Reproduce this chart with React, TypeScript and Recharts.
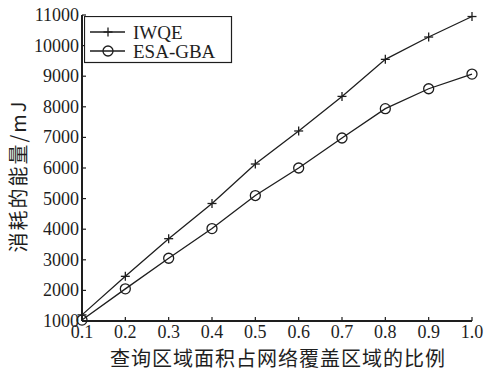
import React from "react"
import { LineChart, Line, XAxis, YAxis } from "recharts"

// query area / network coverage ratio
const ratios = [0.1, 0.2, 0.3, 0.4, 0.5, 0.6, 0.7, 0.8, 0.9, 1.0]
// energy consumed (mJ)
const iwqeEnergy = [1200, 2460, 3690, 4840, 6130, 7210, 8340, 9550, 10280, 10950]
const esaGbaEnergy = [1030, 2050, 3050, 4020, 5100, 6000, 6980, 7940, 8590, 9070]

const xTicks = [0.1, 0.2, 0.3, 0.4, 0.5, 0.6, 0.7, 0.8, 0.9, 1.0]
const yTicks = [1000, 2000, 3000, 4000, 5000, 6000, 7000, 8000, 9000, 10000, 11000]

const data = ratios.map((r, i) => ({ r, iwqe: iwqeEnergy[i], esa: esaGbaEnergy[i] }))

const FONT = '"Liberation Serif", "DejaVu Serif", serif'
const CJK = '"Noto Sans CJK SC", "Liberation Serif", serif'
const INK = "#1e1e1e"
const TICK_LEN = 4
const X_GAP = 17
const Y_GAP = 3

const PlusDot = (props: any) => {
  const { cx, cy } = props
  if (cx == null || cy == null) return null
  return (
    <g stroke={INK} strokeWidth={1.3}>
      <line x1={cx - 4.5} y1={cy} x2={cx + 4.5} y2={cy} />
      <line x1={cx} y1={cy - 4.5} x2={cx} y2={cy + 4.5} />
    </g>
  )
}

const CircleDot = (props: any) => {
  const { cx, cy } = props
  if (cx == null || cy == null) return null
  return <circle cx={cx} cy={cy} r={5} fill="none" stroke={INK} strokeWidth={1.3} />
}

// inward tick marks, with the label drawn outside the axis
const BottomTick = (props: any) => {
  const { x, y, payload } = props
  const axisY = y - X_GAP
  return (
    <g>
      <line x1={x} y1={axisY} x2={x} y2={axisY - TICK_LEN} stroke={INK} strokeWidth={1.2} />
      <text x={x} y={y} textAnchor="middle" fontFamily={FONT} fontSize={18} fill={INK}>
        {payload.value.toFixed(1)}
      </text>
    </g>
  )
}

const TopTick = (props: any) => {
  const { x, y } = props
  return <line x1={x} y1={y} x2={x} y2={y + TICK_LEN} stroke={INK} strokeWidth={1.2} />
}

const LeftTick = (props: any) => {
  const { x, y, payload } = props
  const axisX = x + Y_GAP
  return (
    <g>
      <line x1={axisX} y1={y} x2={axisX + TICK_LEN} y2={y} stroke={INK} strokeWidth={1.2} />
      <text x={x} y={y} textAnchor="end" dominantBaseline="central" fontFamily={FONT} fontSize={18} fill={INK}>
        {payload.value}
      </text>
    </g>
  )
}

const RightTick = (props: any) => {
  const { x, y } = props
  return <line x1={x} y1={y} x2={x - TICK_LEN} y2={y} stroke={INK} strokeWidth={1.2} />
}

const legendItems = [
  { label: "IWQE", Marker: PlusDot },
  { label: "ESA-GBA", Marker: CircleDot },
]

const LegendBox = () => (
  <svg width={149} height={48} style={{ position: "absolute", left: 84, top: 16 }}>
    <rect x={0.5} y={0.5} width={147} height={46} fill="#fff" stroke={INK} strokeWidth={1.2} />
    {legendItems.map((item, i) => {
      const y = 16 + i * 19
      return (
        <g key={item.label}>
          <line x1={6} y1={y} x2={41} y2={y} stroke={INK} strokeWidth={1.3} />
          <item.Marker cx={24} cy={y} />
          <text x={49} y={y} dominantBaseline="central" fontFamily={FONT} fontSize={19} fill={INK}>
            {item.label}
          </text>
        </g>
      )
    })}
  </svg>
)

const XTitle = (props: any) => {
  const { viewBox } = props
  return (
    <text
      x={viewBox.x + viewBox.width / 2 + 1}
      y={viewBox.y + 45}
      textAnchor="middle"
      fontFamily={CJK}
      fontSize={20}
      letterSpacing={1}
      fill={INK}
    >
      查询区域面积占网络覆盖区域的比例
    </text>
  )
}

const YTitle = (props: any) => {
  const { viewBox } = props
  const cx = viewBox.x - 3
  const cy = viewBox.y + viewBox.height / 2 + 8
  return (
    <text
      x={cx}
      y={cy}
      transform={`rotate(-90 ${cx} ${cy})`}
      textAnchor="middle"
      dominantBaseline="central"
      fontFamily={CJK}
      fontSize={20}
      letterSpacing={2}
      fill={INK}
    >
      消耗的能量/mJ
    </text>
  )
}

export default function App() {
  return (
    <div style={{ position: "fixed", left: 0, top: 0, width: 485, height: 371, background: "#fff" }}>
      <LineChart width={485} height={371} data={data} margin={{ top: 15, right: 13, bottom: 20, left: 20 }}>
        <XAxis
          xAxisId="b"
          dataKey="r"
          type="number"
          domain={[0.1, 1.0]}
          ticks={xTicks}
          interval={0}
          height={30}
          tickLine={false}
          tickSize={0}
          tickMargin={X_GAP}
          stroke={INK}
          strokeWidth={2}
          tick={<BottomTick />}
          label={<XTitle />}
        />
        <XAxis
          xAxisId="t"
          orientation="top"
          dataKey="r"
          type="number"
          domain={[0.1, 1.0]}
          ticks={xTicks}
          interval={0}
          height={0}
          tickLine={false}
          tickSize={0}
          tickMargin={0}
          stroke={INK}
          strokeWidth={2}
          tick={<TopTick />}
        />
        <YAxis
          yAxisId="l"
          type="number"
          domain={[1000, 11000]}
          ticks={yTicks}
          interval={0}
          width={62}
          tickLine={false}
          tickSize={0}
          tickMargin={Y_GAP}
          stroke={INK}
          strokeWidth={2}
          tick={<LeftTick />}
          label={<YTitle />}
        />
        <YAxis
          yAxisId="r"
          orientation="right"
          type="number"
          domain={[1000, 11000]}
          ticks={yTicks}
          interval={0}
          width={0}
          tickLine={false}
          tickSize={0}
          tickMargin={0}
          stroke={INK}
          strokeWidth={2}
          tick={<RightTick />}
        />
        <Line
          xAxisId="b"
          yAxisId="l"
          dataKey="iwqe"
          name="IWQE"
          stroke={INK}
          strokeWidth={1.3}
          dot={<PlusDot />}
          activeDot={false}
          isAnimationActive={false}
        />
        <Line
          xAxisId="b"
          yAxisId="l"
          dataKey="esa"
          name="ESA-GBA"
          stroke={INK}
          strokeWidth={1.3}
          dot={<CircleDot />}
          activeDot={false}
          isAnimationActive={false}
        />
      </LineChart>
      <LegendBox />
    </div>
  )
}
